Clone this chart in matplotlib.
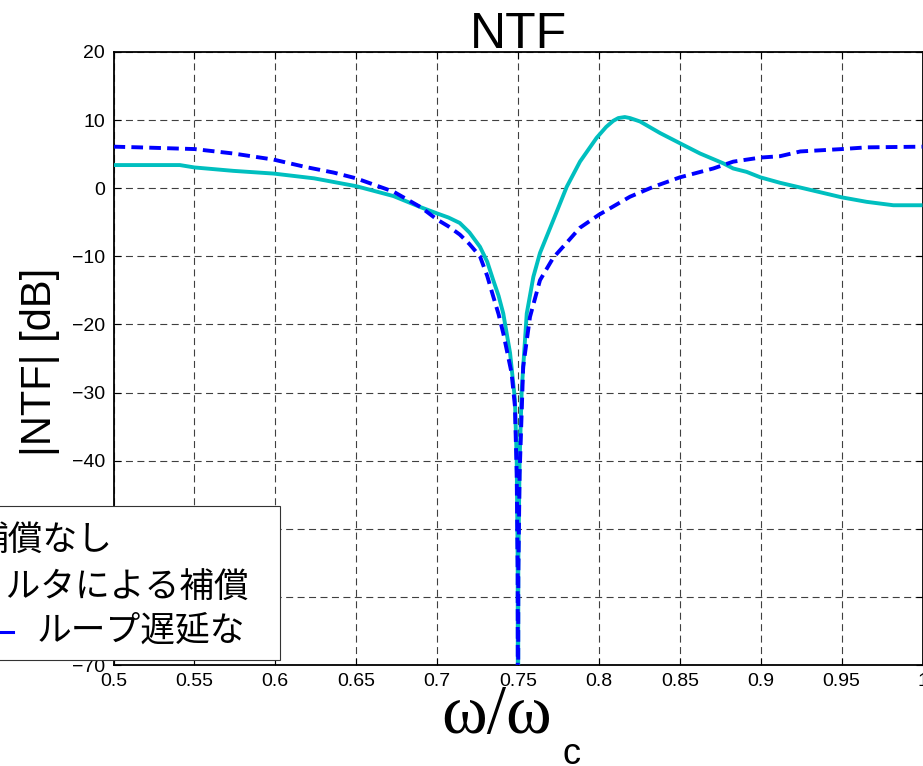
import matplotlib
matplotlib.use("Agg")
import matplotlib.pyplot as plt
from matplotlib.patches import Rectangle
from matplotlib.lines import Line2D

# --- data -------------------------------------------------------------
# loop-filter compensated NTF (solid cyan)
freq_filter = [0.500, 0.541, 0.550, 0.574, 0.599, 0.624, 0.650, 0.673, 0.690,
               0.700, 0.707, 0.714, 0.720, 0.7265, 0.731, 0.7347, 0.738,
               0.7409, 0.7451, 0.7481, 0.7492, 0.7498, 0.7500, 0.7502, 0.7510,
               0.7523, 0.7554, 0.7595, 0.7636, 0.7718, 0.7801, 0.7883, 0.7986,
               0.8045, 0.8089, 0.8120, 0.8160, 0.8192, 0.8254, 0.8378, 0.8501,
               0.8625, 0.8769, 0.8830, 0.8913, 0.8998, 0.9119, 0.9245, 0.9503,
               0.9655, 0.9820, 1.000]
ntf_filter = [3.4, 3.4, 3.05, 2.55, 2.15, 1.45, 0.3, -1.15, -2.8,
              -3.7, -4.3, -5.1, -6.5, -8.6, -10.8, -13.5, -15.8,
              -18.4, -24.2, -31.0, -40.0, -55.0, -100.0, -55.0, -40.0,
              -29.6, -18.4, -13.0, -9.5, -4.7, 0.2, 3.9, 7.4,
              9.0, 9.9, 10.3, 10.45, 10.3, 9.8, 8.1, 6.6,
              5.1, 3.65, 2.9, 2.4, 1.6, 0.8, 0.1, -1.35,
              -2.0, -2.5, -2.5]

# NTF without loop delay (dashed blue)
freq_nodelay = [0.500, 0.516, 0.550, 0.574, 0.599, 0.619, 0.636, 0.650, 0.673,
                0.690, 0.700, 0.707, 0.714, 0.720, 0.7265, 0.731, 0.7347,
                0.738, 0.7409, 0.7460, 0.7481, 0.7492, 0.7498, 0.7500, 0.7502,
                0.7510, 0.7532, 0.7574, 0.7636, 0.7718, 0.7801, 0.7883, 0.8000,
                0.8192, 0.8336, 0.8501, 0.8707, 0.8830, 0.8998, 0.9119, 0.9245,
                0.9503, 0.9655, 1.000]
ntf_nodelay = [6.1, 6.0, 5.75, 5.1, 4.2, 3.1, 2.3, 1.45, -0.5,
               -2.8, -4.6, -5.6, -6.8, -8.2, -10.0, -12.9, -15.9,
               -18.5, -21.3, -27.1, -32.0, -42.0, -57.0, -100.0, -57.0,
               -42.0, -26.2, -18.9, -13.5, -10.2, -8.0, -5.8, -3.9,
               -1.25, 0.2, 1.6, 2.9, 3.9, 4.5, 4.7, 5.4,
               5.75, 6.0, 6.1]

legend_labels = ["補償なし", "フィルタによる補償", "ループ遅延な"]
x_ticks = [0.5, 0.55, 0.6, 0.65, 0.7, 0.75, 0.8, 0.85, 0.9, 0.95, 1.0]
x_tick_labels = ["0.5", "0.55", "0.6", "0.65", "0.7", "0.75", "0.8",
                 "0.85", "0.9", "0.95", "1"]
y_ticks = [-70, -60, -50, -40, -30, -20, -10, 0, 10, 20]

# --- figure -----------------------------------------------------------
W, H = 923, 766
fig = plt.figure(figsize=(W / 100, H / 100), dpi=100)
plt.rcParams["font.family"] = ["Liberation Sans", "DejaVu Sans"]


def fx(px):
    return px / W


def fy(py):
    return 1 - py / H


ax = fig.add_axes([fx(113.5), fy(665), fx(922.5) - fx(113.5), fy(52) - fy(665)])

ax.plot(freq_filter, ntf_filter, color="#00BFBF", lw=2.8, solid_capstyle="butt",
        solid_joinstyle="round", zorder=3)
ax.plot(freq_nodelay, ntf_nodelay, color="#0000FF", lw=2.8,
        linestyle=(0, (3.0, 1.6)), dash_capstyle="butt", zorder=4)

ax.set_xlim(0.5, 1.0)
ax.set_ylim(-70, 20)
ax.set_xticks(x_ticks)
ax.set_xticklabels(x_tick_labels)
ax.set_yticks(y_ticks)
ax.tick_params(direction="in", length=5, width=0.8, top=True, right=True,
               labelsize=14, pad=6)
ax.grid(True, color="0.25", lw=0.8, linestyle=(0, (6.3, 4.0)))
for s in ax.spines.values():
    s.set_linewidth(1.3)
    s.set_color("black")

ax.set_title("NTF", fontsize=36, pad=3)
ax.set_ylabel("|NTF| [dB]", fontsize=30)
ax.yaxis.set_label_coords(-0.066, 0.495)

ax.set_xlabel("ω/ω", fontsize=50, family=["Liberation Serif", "DejaVu Serif"])
ax.xaxis.label.set_verticalalignment("baseline")
ax.xaxis.set_label_coords((497 - 113.5) / 809, (665 - 733) / 613)
fig.text(fx(571), fy(764), "c", fontsize=26, ha="center", va="baseline")

# --- legend box, partly beyond the left edge of the canvas ---------------
fig.patches.append(Rectangle((fx(-300), fy(660)), fx(580), fy(506) - fy(660),
                             transform=fig.transFigure, facecolor="white",
                             edgecolor="0.2", lw=0.8, zorder=5))
jp = ["Noto Sans CJK JP", "DejaVu Sans"]
fig.text(fx(113), fy(551), legend_labels[0], fontsize=25, family=jp,
         ha="right", va="baseline", zorder=6)
fig.text(fx(250), fy(598), legend_labels[1], fontsize=25, family=jp,
         ha="right", va="baseline", zorder=6)
fig.text(fx(37), fy(641), legend_labels[2], fontsize=25, family=jp,
         ha="left", va="baseline", zorder=6)
fig.lines.append(Line2D([fx(-30), fx(13)], [fy(632), fy(632)],
                        transform=fig.transFigure, color="#0000FF", lw=2.2,
                        zorder=6))

fig.savefig("out.png", dpi=100)
